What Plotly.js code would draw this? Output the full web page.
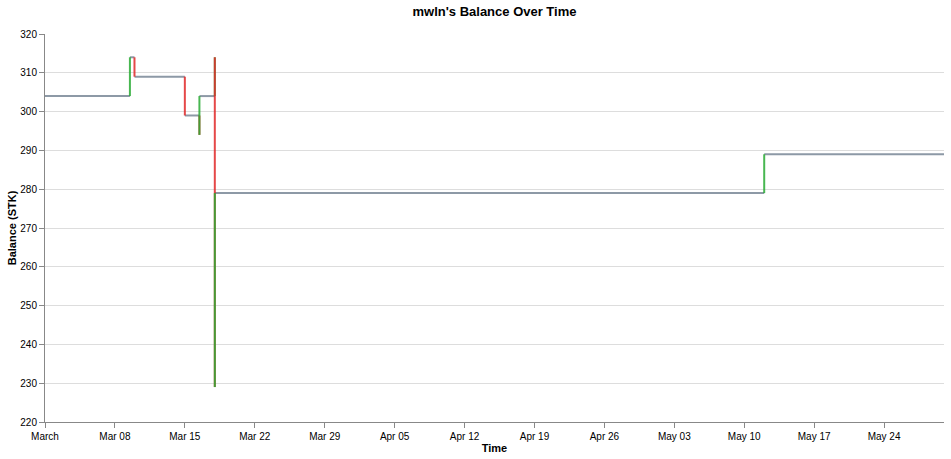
<!DOCTYPE html>
<html>
<head>
<meta charset="utf-8">
<script src="https://cdn.plot.ly/plotly-3.0.1.min.js"></script>
<style>
  body { margin: 0; padding: 0; background: #fff; }
  #chart { width: 951px; height: 459px; }
</style>
</head>
<body>
<div id="chart"></div>
<script>
// Balance events (time of change, balance after change)
const times = [
    '2026-03-01 00:00', '2026-03-09 12:00', '2026-03-09 23:00', '2026-03-15 00:00',
    '2026-03-16 11:00', '2026-03-16 11:00', '2026-03-18 00:00', '2026-03-18 00:00',
    '2026-03-18 00:00', '2026-05-12 00:00', '2026-05-30 00:00'
];
const balances = [304, 314, 309, 299, 294, 304, 314, 229, 279, 289, 289];

// Axis ticks
const xTickVals = [
    '2026-03-01', '2026-03-08', '2026-03-15', '2026-03-22', '2026-03-29', '2026-04-05',
    '2026-04-12', '2026-04-19', '2026-04-26', '2026-05-03', '2026-05-10', '2026-05-17', '2026-05-24'
];
const xTickText = [
    'March', 'Mar 08', 'Mar 15', 'Mar 22', 'Mar 29', 'Apr 05',
    'Apr 12', 'Apr 19', 'Apr 26', 'May 03', 'May 10', 'May 17', 'May 24'
];

const FLAT = 'rgba(112,128,144,0.8)';
const UP = 'rgba(40,170,50,0.85)';
const DOWN = 'rgba(225,40,40,0.85)';

const traces = [];

// Horizontal (flat) parts of the step line
const flatX = [];
const flatY = [];
for (let i = 0; i < times.length - 1; i++) {
    if (times[i] === times[i + 1]) continue;
    flatX.push(times[i], times[i + 1], null);
    flatY.push(balances[i], balances[i], null);
}
traces.push({
    x: flatX, y: flatY, type: 'scatter', mode: 'lines',
    line: { color: FLAT, width: 2 }, hoverinfo: 'skip', showlegend: false
});

// Vertical parts, coloured by direction, drawn in order
for (let i = 1; i < times.length; i++) {
    const prev = balances[i - 1];
    const cur = balances[i];
    if (prev === cur) continue;
    traces.push({
        x: [times[i], times[i]],
        y: [prev, cur],
        type: 'scatter', mode: 'lines',
        line: { color: cur > prev ? UP : DOWN, width: 2 },
        hoverinfo: 'skip', showlegend: false
    });
}

const layout = {
    width: 951,
    height: 459,
    margin: { l: 45, r: 7, t: 34, b: 37 },
    paper_bgcolor: '#fff',
    plot_bgcolor: '#fff',
    font: { family: 'Liberation Sans, Arial, sans-serif', size: 10, color: '#000' },
    title: {
        text: "<b>mwln's Balance Over Time</b>",
        font: { size: 13, color: '#000' },
        x: 0.5, xref: 'paper', xanchor: 'center',
        y: 1 - 11 / 459, yref: 'container', yanchor: 'middle'
    },
    xaxis: {
        type: 'date',
        range: [times[0], times[times.length - 1]],
        tickvals: xTickVals,
        ticktext: xTickText,
        ticks: 'outside', ticklen: 5, tickcolor: '#888', tickwidth: 1,
        showline: true, linecolor: '#888', linewidth: 1,
        showgrid: false, zeroline: false,
        tickfont: { size: 10, color: '#000' },
        title: { text: '<b>Time</b>', font: { size: 11, color: '#000' }, standoff: 3 }
    },
    yaxis: {
        range: [220, 320],
        dtick: 10,
        ticks: 'outside', ticklen: 5, tickcolor: '#888', tickwidth: 1,
        showline: true, linecolor: '#888', linewidth: 1,
        showgrid: true, gridcolor: '#ddd', zeroline: false,
        tickfont: { size: 10, color: '#000' },
        title: { text: '<b>Balance (STK)</b>', font: { size: 11, color: '#000' }, standoff: 1 }
    }
};

Plotly.newPlot('chart', traces, layout, { displayModeBar: false, staticPlot: true });
</script>
</body>
</html>
